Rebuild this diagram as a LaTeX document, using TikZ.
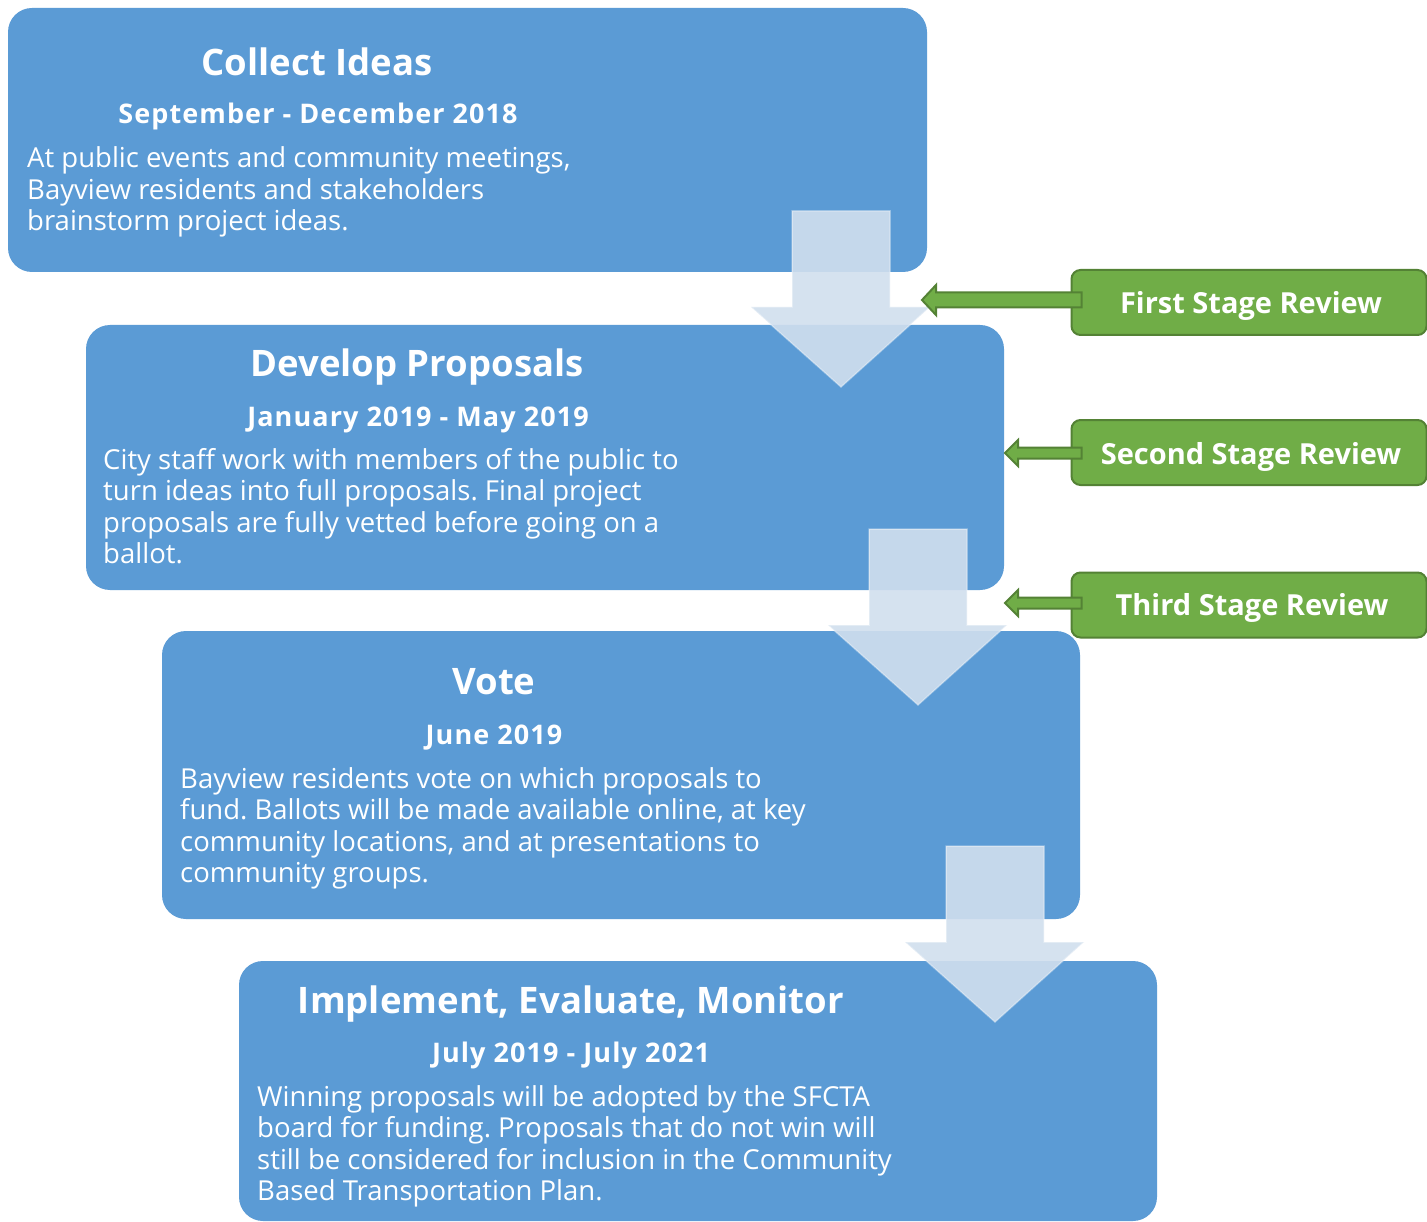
\documentclass[tikz,border=0pt]{standalone}
\usepackage{fontspec}
\usetikzlibrary{calc}
\setmainfont{Open Sans}
\frenchspacing
\definecolor{boxblue}{HTML}{5B9BD5}
\definecolor{arrowfill}{RGB}{209,223,238}
\definecolor{revgreen}{HTML}{70AD47}
\definecolor{revborder}{HTML}{548235}
\tikzset{
  stage/.style={fill=boxblue, rounded corners=24pt, inner sep=0pt, outer sep=0pt},
  ttl/.style={text=white, anchor=base, inner sep=0pt, font=\fontsize{36.5}{40}\selectfont\bfseries},
  subttl/.style={text=white, anchor=base, inner sep=0pt, font=\fontsize{27}{30}\selectfont\bfseries\addfontfeatures{LetterSpace=4}},
  bodytxt/.style={text=white, anchor=base west, inner sep=0pt, font=\fontsize{27.5}{31.5}\selectfont},
  review/.style={fill=revgreen, draw=revborder, line width=2pt, rounded corners=9pt, inner sep=0pt},
  reviewtxt/.style={text=white, anchor=base, inner sep=0pt, font=\fontsize{29}{32}\selectfont\bfseries},
  blockarrow/.style={fill=arrowfill, fill opacity=0.9, draw=white, draw opacity=0.35, line width=1.5pt, line join=miter},
  greenarrow/.style={fill=revgreen, draw=revborder, line width=2pt, line join=miter}
}
\begin{document}
\begin{tikzpicture}[x=1pt,y=-1pt]
\useasboundingbox (0,0) rectangle (1427,1222);
\fill[white] (0,0) rectangle (1427,1222);

% stage boxes
\node[stage, minimum width=919pt, minimum height=264pt] (s1) at (467.5,140) {};
\node[stage, minimum width=918pt, minimum height=265pt] (s2) at (545,457.5) {};
\node[stage, minimum width=918pt, minimum height=288pt] (s3) at (621,775) {};
\node[stage, minimum width=918pt, minimum height=260pt] (s4) at (698,1091) {};

% texts box 1
\node[ttl] (t1) at (317,76) {Collect Ideas};
\node[subttl] (d1) at (318,124) {September - December 2018};
\node[bodytxt] (b1) at (27,168) {\vtop{\hbox{At public events and community meetings,}\hbox{Bayview residents and stakeholders}\hbox{brainstorm project ideas.}}};

% texts box 2
\node[ttl] (t2) at (417,377) {Develop Proposals};
\node[subttl] (d2) at (418,426) {January 2019 - May 2019};
\node[bodytxt] (b2) at (103,469) {\vtop{\hbox{City staff work with members of the public to}\hbox{turn ideas into full proposals. Final project}\hbox{proposals are fully vetted before going on a}\hbox{ballot.}}};

% texts box 3
\node[ttl] (t3) at (494,694) {Vote};
\node[subttl] (d3) at (494,744) {June 2019};
\node[bodytxt] (b3) at (180,788) {\vtop{\hbox{Bayview residents vote on which proposals to}\hbox{fund. Ballots will be made available online, at key}\hbox{community locations, and at presentations to}\hbox{community groups.}}};

% texts box 4
\node[ttl] (t4) at (571,1013) {Implement, Evaluate, Monitor};
\node[subttl] (d4) at (571,1062) {July 2019 - July 2021};
\node[bodytxt] (b4) at (257,1106) {\vtop{\hbox{Winning proposals will be adopted by the SFCTA}\hbox{board for funding. Proposals that do not win will}\hbox{still be considered for inclusion in the Community}\hbox{Based Transportation Plan.}}};

% block arrows between stages
\coordinate (a1) at (841,387);
\coordinate (a2) at (918,705);
\coordinate (a3) at (995,1022);
\foreach \c in {a1,a2,a3}{
  \draw[blockarrow] ($(\c)+(-49,-176)$) -- ($(\c)+(49,-176)$) -- ($(\c)+(49,-80)$) -- ($(\c)+(89,-80)$)
     -- (\c) -- ($(\c)+(-90,-80)$) -- ($(\c)+(-49,-80)$) -- cycle;
}

% review boxes
\node[review, minimum width=355pt, minimum height=65pt] (r1) at (1249,302.5) {};
\node[review, minimum width=355pt, minimum height=65pt] (r2) at (1249,452.5) {};
\node[review, minimum width=355pt, minimum height=65pt] (r3) at (1249,605) {};
\node[reviewtxt] at (1251,314) {First Stage Review};
\node[reviewtxt] at (1251,464) {Second Stage Review};
\node[reviewtxt] at (1252,615) {Third Stage Review};

% green arrows
\coordinate (g1) at (922,300);
\coordinate (g2) at (1005,453);
\coordinate (g3) at (1005,603);
\draw[greenarrow] (g1) -- ($(g1)+(14,-15)$) -- ($(g1)+(14,-7.5)$) -- ($(r1.west)+(11,-10)$) -- ($(r1.west)+(11,5)$) -- ($(g1)+(14,7.5)$) -- ($(g1)+(14,15)$) -- cycle;
\draw[greenarrow] (g2) -- ($(g2)+(13,-13)$) -- ($(g2)+(13,-5.5)$) -- ($(r2.west)+(11,-5)$) -- ($(r2.west)+(11,6)$) -- ($(g2)+(13,5.5)$) -- ($(g2)+(13,13)$) -- cycle;
\draw[greenarrow] (g3) -- ($(g3)+(13,-13)$) -- ($(g3)+(13,-5.5)$) -- ($(r3.west)+(11,-7.5)$) -- ($(r3.west)+(11,3.5)$) -- ($(g3)+(13,5.5)$) -- ($(g3)+(13,13)$) -- cycle;
\end{tikzpicture}
\end{document}
